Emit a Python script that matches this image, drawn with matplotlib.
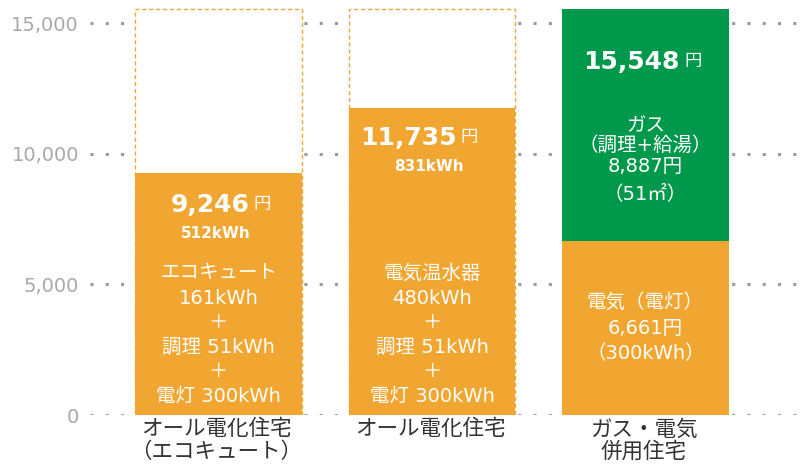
import matplotlib
matplotlib.use('Agg')
import matplotlib.pyplot as plt

plt.rcParams['font.family'] = ['DejaVu Sans', 'Noto Sans CJK JP']

# データ
houses = ['オール電化住宅\n（エコキュート）', 'オール電化住宅', 'ガス・電気\n併用住宅']
elec_yen = [9246, 11735, 6661]
gas_yen = [0, 0, 8887]
total_labels = ['9,246', '11,735', '15,548']
kwh_labels = ['512kWh', '831kWh', '']
detail_1 = [['エコキュート', '161kWh', '＋', '調理 51kWh', '＋', '電灯 300kWh'],
            ['電気温水器', '480kWh', '＋', '調理 51kWh', '＋', '電灯 300kWh']]
gas_detail = ['ガス', '（調理+給湯）', '8,887円', '（51㎡）']
elec_detail = ['電気（電灯）', '6,661円', '（300kWh）']
yticks = [0, 5000, 10000, 15000]

orange = '#F2A632'
green = '#00994C'

fig = plt.figure(figsize=(8.06, 4.65), dpi=100)
ax = fig.add_axes([90/806, 50/465, 710/806, 410/465])

x = [0, 1, 2]
w = 0.78
totals = [e + g for e, g in zip(elec_yen, gas_yen)]
outline_h = max(totals)

# 点線グリッド
for t in yticks:
    ax.axhline(t, color='#9a9a9a', linestyle=(0, (1, 4)), linewidth=2.2, zorder=0)

# 比較用の点線枠
ax.bar(x[:2], [outline_h]*2, w, facecolor='white', edgecolor=orange,
       linestyle=(0, (3, 2)), linewidth=1.0, zorder=1)
ax.bar(x, elec_yen, w, color=orange, zorder=2)
ax.bar(x, gas_yen, w, bottom=elec_yen, color=green, zorder=2)

ax.set_xlim(-0.602, 2.724)
ax.set_ylim(0, 15689)
ax.set_yticks(yticks)
ax.set_yticklabels(['{:,}'.format(t) for t in yticks], color='#a8a8a8', fontsize=14)
ax.tick_params(axis='y', length=0, pad=8)
ax.set_xticks([])
for s in ax.spines.values():
    s.set_visible(False)

def note(s, xy, dx, dy, size=14, **kw):
    return ax.annotate(s, xy, xytext=(dx, dy), textcoords='offset pixels',
                       ha=kw.pop('ha', 'center'), va='center', color='white',
                       fontsize=size, zorder=5, **kw)

# 合計金額
num_dy = [-32, -30, -53]
num_shift = [2, -13, -3]
pairs = []
for i in range(3):
    a = note(total_labels[i], (x[i], totals[i]), 0, num_dy[i], 18,
             ha='left', fontweight='bold')
    b = note('円', (x[i], totals[i]), 0, num_dy[i], 12.5, ha='left')
    pairs.append((a, b))
    if kwh_labels[i]:
        note(kwh_labels[i], (x[i], totals[i]), -3, num_dy[i] - 28, 11,
             fontweight='bold')

fig.canvas.draw()
r = fig.canvas.get_renderer()
for i, (a, b) in enumerate(pairs):
    wa = a.get_window_extent(r).width
    wb = b.get_window_extent(r).width
    left = num_shift[i] - (wa + 4 + wb) / 2
    a.xyann = (left, num_dy[i])
    b.xyann = (left + wa + 4, num_dy[i] + 1)

# 内訳
line_dy = [142, 117, 93, 68, 44, 19]
for i in range(2):
    for s, dy in zip(detail_1[i], line_dy):
        note(s, (x[i], 0), 0, dy)
for s, dy in zip(gas_detail, [-117, -137, -158, -185]):
    note(s, (x[2], totals[2]), 0, dy)
for s, dy in zip(elec_detail, [113, 87, 61]):
    note(s, (x[2], 0), 0, dy)

# 住宅の種類
for i in range(3):
    ax.annotate(houses[i], (x[i], 0), xytext=(-2, -4), textcoords='offset pixels',
                ha='center', va='top', color='#333333', fontsize=15.5,
                linespacing=1.12, annotation_clip=False)

fig.savefig('out.png', dpi=100)
